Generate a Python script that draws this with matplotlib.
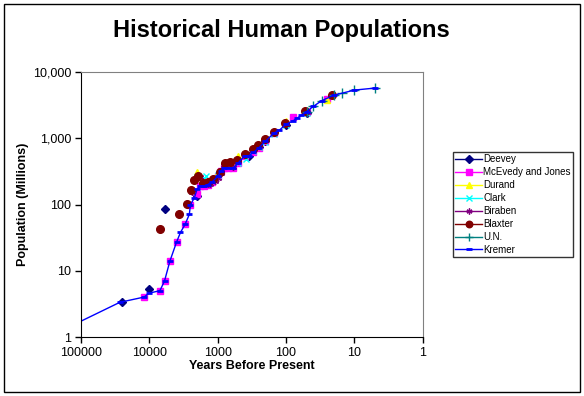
import matplotlib
matplotlib.use('Agg')
import matplotlib.pyplot as plt
from matplotlib.lines import Line2D
from matplotlib.patches import Rectangle

plt.rcParams['font.family'] = ['Liberation Sans', 'DejaVu Sans']

# Years before present (present = 2000) and population in millions
deevey_bp = [25000, 10000, 6000, 2000, 350, 250, 200, 100, 50]
deevey_pop = [3.34, 5.32, 86.5, 133, 545, 728, 906, 1610, 2400]

mcevedy_bp = [12000, 7000, 6000, 5000, 4000, 3000, 2500, 2000, 1800, 1600,
              1400, 1200, 1000, 900, 800, 700, 600, 500, 400, 300, 250, 200,
              150, 80, 50, 25]
mcevedy_pop = [4, 5, 7, 14, 27, 50, 100, 145, 190, 190, 200, 220, 265, 320,
               360, 360, 350, 425, 545, 610, 720, 900, 1200, 2085, 2500, 3900]

durand_bp = [2000, 1000, 500, 250, 100, 25]
durand_pop = [310, 310, 545, 770, 1850, 3800]

clark_bp = [2000, 1600, 1460, 1000, 800, 660, 500, 380, 300, 250, 200, 150,
            100, 50]
clark_pop = [256, 254, 269, 280, 384, 378, 427, 490, 641, 731, 890, 1171,
             1608, 2400]

biraben_bp = [2400, 2200, 2000, 1800, 1600, 1500, 1400, 1300, 1200, 1100,
              1000, 900, 800, 700, 600, 500, 400, 300, 250, 200, 150, 100, 50]
biraben_pop = [153, 231, 255, 256, 206, 206, 206, 207, 224, 226, 254, 301,
               400, 432, 374, 460, 579, 679, 770, 954, 1241, 1633, 2527]

blaxter_bp = [7000, 3700, 2850, 2450, 2250, 1930, 1630, 1380, 1170, 920, 780,
              670, 520, 400, 305, 257, 205, 150, 103, 53, 21]
blaxter_pop = [42, 73, 103, 166, 234, 268, 212, 220, 240, 305, 417, 432, 470,
               570, 695, 790, 970, 1250, 1680, 2560, 4500]

un_bp = [50, 40, 30, 20, 15, 10, 5]
un_pop = [2520, 3020, 3700, 4440, 4780, 5300, 5720]

kremer_bp = [300000, 27000, 12000, 10000, 7000, 6000, 5000, 4000, 3500, 3000,
             2600, 2500, 2200, 2000, 1800, 1600, 1400, 1200, 1000, 900, 800,
             700, 600, 500, 400, 350, 300, 250, 200, 150, 125, 100, 80, 70,
             60, 50, 40, 30, 20, 10, 5]
kremer_pop = [1, 3.34, 4, 4.6, 5, 7, 14, 27, 38, 50, 71, 100, 125, 170, 190,
              190, 200, 220, 265, 320, 360, 360, 350, 425, 545, 545, 610, 720,
              900, 1200, 1325, 1625, 1813, 1987, 2213, 2516, 3019, 3693, 4450,
              5333, 5720]

series = [
    ('Deevey', deevey_bp, deevey_pop, '#000080', 'D', 4.5),
    ('McEvedy and Jones', mcevedy_bp, mcevedy_pop, '#FF00FF', 's', 4.5),
    ('Durand', durand_bp, durand_pop, '#FFFF00', '^', 5),
    ('Clark', clark_bp, clark_pop, '#00FFFF', 'x', 5),
    ('Biraben', biraben_bp, biraben_pop, '#800080', (6, 2, 0), 5),
    ('Blaxter', blaxter_bp, blaxter_pop, '#800000', 'o', 5.5),
    ('U.N.', un_bp, un_pop, '#008080', '+', 7),
]

fig = plt.figure(figsize=(5.84, 3.96), dpi=100)
ax = fig.add_axes([81 / 584, 59 / 396, 341.7 / 584, 265 / 396])

handles = []
for name, xs, ys, col, mk, ms in series:
    ax.plot(xs, ys, linestyle='none', marker=mk, color=col, markersize=ms,
            markeredgewidth=1, clip_on=True)
    handles.append(Line2D([], [], color=col, marker=mk, markersize=ms * 0.85,
                          lw=1, label=name))

ax.plot(kremer_bp, kremer_pop, color='#0000FF', lw=1, marker='_',
        markersize=5, markeredgewidth=2)
handles.append(Line2D([], [], color='#0000FF', marker='_', markersize=5,
                      markeredgewidth=2, lw=1, label='Kremer'))

ax.set_xscale('log')
ax.set_yscale('log')
ax.set_xlim(100000, 1)
ax.set_ylim(1, 10000)
ax.set_xticks([100000, 10000, 1000, 100, 10, 1])
ax.set_xticklabels(['100000', '10000', '1000', '100', '10', '1'])
ax.set_yticks([1, 10, 100, 1000, 10000])
ax.set_yticklabels(['1', '10', '100', '1,000', '10,000'])
ax.minorticks_off()
ax.tick_params(axis='both', direction='out', length=4, width=1, labelsize=9,
               pad=3, color='black')

ax.spines['top'].set_color('#808080')
ax.spines['right'].set_color('#808080')
ax.spines['left'].set_color('black')
ax.spines['bottom'].set_color('black')

ax.set_xlabel('Years Before Present', fontsize=9, fontweight='bold',
              labelpad=1)
ax.set_ylabel('Population (Millions)', fontsize=9, fontweight='bold',
              labelpad=3)

fig.text(281 / 584, 1 - 31 / 396, 'Historical Human Populations',
         fontsize=17, fontweight='bold', ha='center', va='center')

leg = fig.legend(handles=handles, loc='upper left',
                 bbox_to_anchor=(453 / 584, 1 - 152 / 396), fontsize=7,
                 frameon=True, fancybox=False, edgecolor='black',
                 handlelength=2.7, handletextpad=0.15, labelspacing=0.3,
                 borderpad=0.25, borderaxespad=0)
leg.get_frame().set_linewidth(1)

fig.patches.append(Rectangle((4 / 584, 4 / 396), 576 / 584, 388 / 396,
                             transform=fig.transFigure, fill=False,
                             edgecolor='black', lw=1))

fig.savefig('out.png', dpi=100)
